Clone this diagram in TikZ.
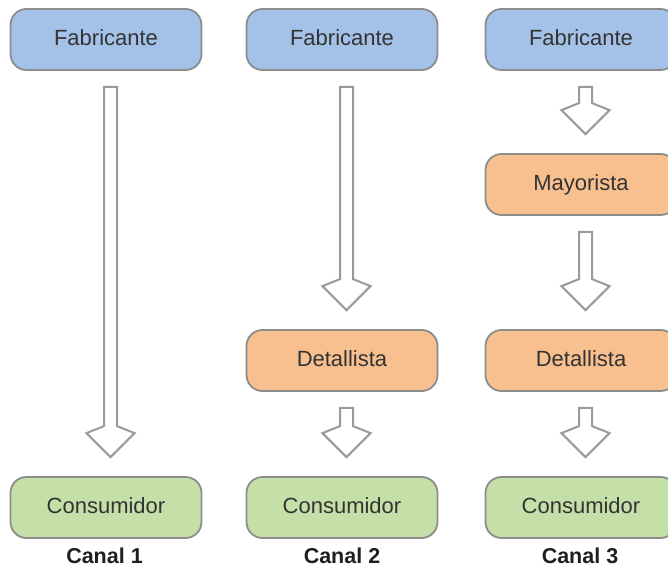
\documentclass[tikz,border=0pt]{standalone}
\usepackage{fontspec}
\setmainfont{Liberation Sans}
\usetikzlibrary{calc}
\definecolor{boxline}{HTML}{8C8C8C}
\definecolor{fabblue}{HTML}{A4C2E8}
\definecolor{midorange}{HTML}{F9C08F}
\definecolor{congreen}{HTML}{C4E0A8}
\definecolor{txtgray}{HTML}{333333}
\definecolor{arrline}{HTML}{9A9A9A}
\tikzset{
  box/.style={draw=boxline, line width=1.8pt, rounded corners=16pt,
    minimum width=191pt, minimum height=61pt, inner sep=0pt,
    text height=16pt, text depth=4pt,
    font=\fontsize{22}{26}\selectfont, text=txtgray},
  fabbox/.style={box, fill=fabblue},
  midbox/.style={box, fill=midorange},
  conbox/.style={box, fill=congreen},
  fatline/.style={draw=arrline, fill=white, line width=2pt, line join=miter},
  canal/.style={font=\bfseries\fontsize{21.5}{26}\selectfont, text=black!88,
    anchor=base, inner sep=0pt}
}
\newcommand{\fatarr}[2]{%
  \draw[fatline] let \p1=($(#1.south)+(4.5pt,-16pt)$),
                     \p2=($(#2.north)+(4.5pt,19pt)$) in
    (\x1-6.5pt,\y1) -- (\x1+6.5pt,\y1) -- (\x1+6.5pt,\y2+31pt)
    -- (\x1+24pt,\y2+24pt) -- (\x1,\y2) -- (\x1-24pt,\y2+24pt)
    -- (\x1-6.5pt,\y2+31pt) -- cycle;}
\begin{document}
\begin{tikzpicture}[x=1pt,y=1pt]
  \clip (0,0) rectangle (668,568);
  \fill[white] (0,0) rectangle (668,568);
  % column 1
  \node[fabbox] (f1) at (106,528.5) {Fabricante};
  \node[conbox] (k1) at (106,60.5) {Consumidor};
  % column 2
  \node[fabbox] (f2) at (342,528.5) {Fabricante};
  \node[midbox] (d2) at (342,207.5) {Detallista};
  \node[conbox] (k2) at (342,60.5) {Consumidor};
  % column 3
  \node[fabbox] (f3) at (581,528.5) {Fabricante};
  \node[midbox] (m3) at (581,383.5) {Mayorista};
  \node[midbox] (d3) at (581,207.5) {Detallista};
  \node[conbox] (k3) at (581,60.5) {Consumidor};
  % arrows
  \fatarr{f1}{k1}
  \fatarr{f2}{d2}
  \fatarr{d2}{k2}
  \fatarr{f3}{m3}
  \fatarr{m3}{d3}
  \fatarr{d3}{k3}
  % labels
  \node[canal] (c1) at (104.5,5) {Canal 1};
  \node[canal] (c2) at (342,5) {Canal 2};
  \node[canal] (c3) at (580,5) {Canal 3};
\end{tikzpicture}
\end{document}
